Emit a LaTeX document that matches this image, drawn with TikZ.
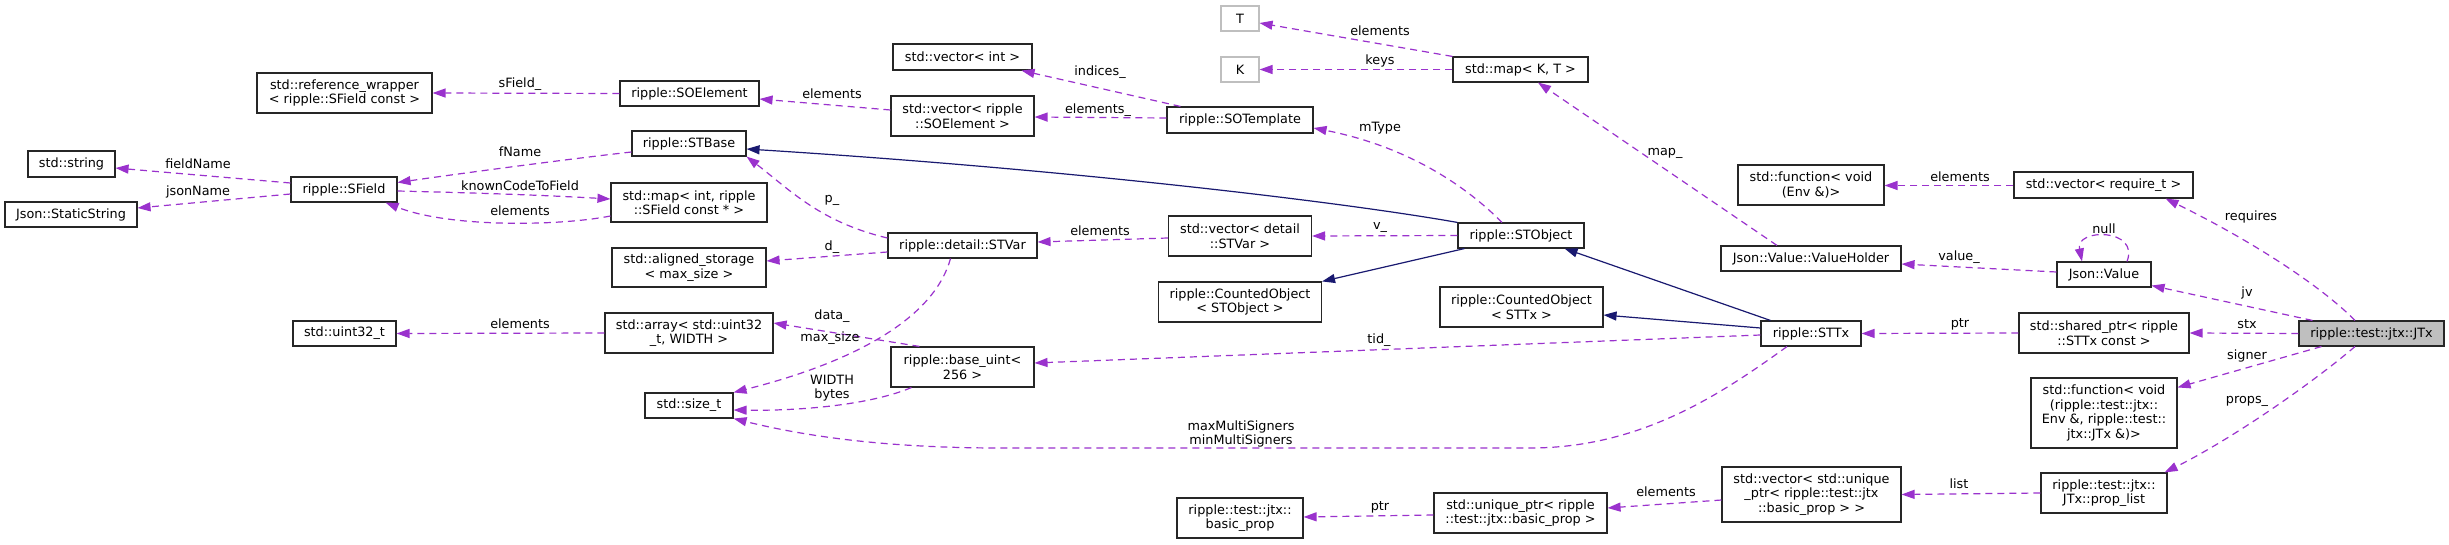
\documentclass[tikz,border=0pt]{standalone}
\usepackage{fontspec}
\setmainfont{DejaVu Sans}
\usetikzlibrary{arrows.meta,calc}
\definecolor{edgep}{HTML}{9A32CD}
\definecolor{inhc}{HTML}{191970}
\definecolor{gr75}{HTML}{BFBFBF}
\begin{document}
\begin{tikzpicture}[x=1pt,y=-1pt,
  font=\fontsize{12.8}{14.5}\selectfont,
  cls/.style={draw=black!85, line width=1.1pt, fill=white, inner sep=0pt, align=center, text=black},
  undoc/.style={cls, draw=gr75},
  sz/.style 2 args={minimum width=#1pt, minimum height=#2pt},
  lbl/.style={inner sep=0pt, align=center, text=black},
  usage/.style={draw=edgep, line width=1.2pt, dash pattern=on 7pt off 5pt, -{Triangle[length=13pt,width=9pt]}},
  inherit/.style={draw=inhc, line width=1.2pt, -{Triangle[length=13pt,width=9pt]}}
]
\useasboundingbox[fill=white] (0,0) rectangle (2449,545);

% nodes
\node[cls, sz={175}{40}] (refw) at (344.5,93) {std::reference\_wrapper\\< ripple::SField const >};
\node[cls, sz={87}{26}] (stdstring) at (71.5,164) {std::string};
\node[cls, sz={132}{25}] (staticstr) at (71,214.5) {Json::StaticString};
\node[cls, sz={106}{25}] (sfield) at (344,189.5) {ripple::SField};
\node[cls, sz={139}{25}] (soelement) at (689.5,93.5) {ripple::SOElement};
\node[cls, sz={114}{25}] (stbase) at (689,143.5) {ripple::STBase};
\node[cls, sz={156}{39}] (mapint) at (689,202.5) {std::map< int, ripple\\::SField const * >};
\node[cls, sz={154}{39}] (aligned) at (689,267.5) {std::aligned\_storage\\< max\_size >};
\node[cls, sz={103}{25}] (uint32) at (344.5,333.5) {std::uint32\_t};
\node[cls, sz={168}{40}] (array) at (689,333) {std::array< std::uint32\\\_t, WIDTH >};
\node[cls, sz={88}{25}] (sizet) at (689,405.5) {std::size\_t};
\node[cls, sz={139}{26}] (vecint) at (962.5,57) {std::vector< int >};
\node[cls, sz={143}{40}] (vecsoel) at (962.5,116) {std::vector< ripple\\::SOElement >};
\node[cls, sz={149}{25}] (stvar) at (962.5,245.5) {ripple::detail::STVar};
\node[cls, sz={143}{40}] (baseuint) at (962.5,367) {ripple::base\_uint<\\256 >};
\node[undoc, sz={38}{25}] (T) at (1240,18.5) {T};
\node[undoc, sz={38}{25}] (K) at (1240,69.5) {K};
\node[cls, sz={146}{26}] (sotemplate) at (1240,120) {ripple::SOTemplate};
\node[cls, sz={143}{40}] (vecstvar) at (1240,236) {std::vector< detail\\::STVar >};
\node[cls, sz={163}{40}] (coSTObject) at (1240,302) {ripple::CountedObject\\< STObject >};
\node[cls, sz={126}{40}] (basicprop) at (1240,518) {ripple::test::jtx::\\basic\_prop};
\node[cls, sz={135}{25}] (mapKT) at (1520.5,69.5) {std::map< K, T >};
\node[cls, sz={126}{25}] (stobject) at (1521,235.5) {ripple::STObject};
\node[cls, sz={163}{40}] (coSTTx) at (1521.5,307) {ripple::CountedObject\\< STTx >};
\node[cls, sz={173}{40}] (uniqueptr) at (1520.5,513) {std::unique\_ptr< ripple\\::test::jtx::basic\_prop >};
\node[cls, sz={146}{40}] (funcenv) at (1811,185) {std::function< void\\(Env \&)>};
\node[cls, sz={180}{25}] (valueholder) at (1811,258.5) {Json::Value::ValueHolder};
\node[cls, sz={100}{25}] (sttx) at (1811,333.5) {ripple::STTx};
\node[cls, sz={179}{55}] (vecuptr) at (1811.5,494.5) {std::vector< std::unique\\\_ptr< ripple::test::jtx\\::basic\_prop > >};
\node[cls, sz={179}{26}] (vecreq) at (2103.5,185) {std::vector< require\_t >};
\node[cls, sz={94}{25}] (jsonvalue) at (2104,274.5) {Json::Value};
\node[cls, sz={170}{40}] (sharedptr) at (2104,333) {std::shared\_ptr< ripple\\::STTx const >};
\node[cls, sz={146}{70}] (funcjtx) at (2104,413) {std::function< void\\(ripple::test::jtx::\\Env \&, ripple::test::\\jtx::JTx \&)>};
\node[cls, sz={126}{40}] (proplist) at (2104,493) {ripple::test::jtx::\\JTx::prop\_list};
\node[cls, fill=gr75, sz={145}{25}] (jtx) at (2371.5,333.5) {ripple::test::jtx::JTx};

% edges
\draw[usage] (soelement.west) -- (refw.east);
\draw[usage] ($(sfield.west)+(0,-6.5)$) -- ($(stdstring.east)+(0,4)$);
\draw[usage] ($(sfield.west)+(0,4.5)$) -- ($(staticstr.east)+(0,-6.5)$);
\draw[usage] ($(stbase.west)+(0,8.5)$) .. controls (560,160) and (450,175) .. ($(sfield.east)+(0,-7)$);
\draw[usage] ($(sfield.east)+(0,1.5)$) .. controls (480,193) and (540,195) .. ($(mapint.west)+(0,-3.5)$);
\draw[usage] ($(mapint.west)+(0,13.5)$) .. controls (560,226) and (450,228) .. ($(sfield.south east)+(-12,0)$);
\draw[usage] ($(vecsoel.west)+(0,-6)$) -- ($(soelement.east)+(0,5.5)$);
\draw[usage] ($(sotemplate.north west)+(14,0)$) -- ($(vecint.south east)+(-11,0)$);
\draw[usage] ($(sotemplate.west)+(0,-2)$) -- ($(vecsoel.east)+(0,1)$);
\draw[inherit] (stobject.north west) .. controls (1330,200) and (1050,168) .. ($(stbase.east)+(0,5.5)$);
\draw[usage] ($(stvar.west)+(0,-7.5)$) .. controls (820,222) and (790,190) .. (stbase.south east);
\draw[usage] ($(stvar.west)+(0,6.5)$) -- ($(aligned.east)+(0,-6.5)$);
\draw[usage] ($(vecstvar.west)+(0,2)$) -- ($(stvar.east)+(0,-3.5)$);
\draw[usage] ($(stvar.south)+(-12,0)$) .. controls (935,315) and (862,360) .. (sizet.north east);
\draw[usage] ($(baseuint.north west)+(29,0)$) -- ($(array.east)+(0,-10)$);
\draw[usage] ($(baseuint.south west)+(21,0)$) .. controls (870,405) and (800,411) .. ($(sizet.east)+(0,4.5)$);
\draw[usage] ($(sttx.south)+(-24,0)$) .. controls (1720,395) and (1640,448) .. (1530,448) -- (1000,448) .. controls (880,448) and (800,435) .. (sizet.south east);
\draw[usage] ($(sttx.west)+(0,1.5)$) -- ($(baseuint.east)+(0,-4)$);
\draw[inherit] ($(sttx.west)+(0,-5.5)$) -- ($(coSTTx.east)+(0,8)$);
\draw[inherit] ($(sttx.north west)+(10,0)$) -- ($(stobject.south east)+(-20,0)$);
\draw[inherit] ($(stobject.south west)+(7,0)$) -- (coSTObject.north east);
\draw[usage] (mapKT.north west) -- ($(T.east)+(0,4.5)$);
\draw[usage] (mapKT.west) -- (K.east);
\draw[usage] ($(stobject.north)+(-19,0)$) .. controls (1460,180) and (1400,145) .. ($(sotemplate.east)+(0,8)$);
\draw[usage] (stobject.west) -- (vecstvar.east);
\draw[usage] ($(valueholder.north)+(-34,0)$) -- ($(mapKT.south)+(17.5,0)$);
\draw[usage] ($(vecreq.west)+(0,0.5)$) -- ($(funcenv.east)+(0,0.5)$);
\draw[usage] ($(jsonvalue.west)+(0,-2.5)$) -- ($(valueholder.east)+(0,5.5)$);
\draw[usage] ($(jsonvalue.north)+(23,0)$) .. controls (2140,228) and (2075,228) .. ($(jsonvalue.north)+(-22,0)$);
\draw[usage] ($(jtx.north)+(-16.5,0)$) .. controls (2320,285) and (2250,240) .. ($(vecreq.south east)+(-28,0)$);
\draw[usage] ($(jtx.north west)+(14,0)$) -- ($(jsonvalue.south east)+(0,-2)$);
\draw[usage] (jtx.west) -- (sharedptr.east);
\draw[usage] (sharedptr.west) -- (sttx.east);
\draw[usage] ($(jtx.south west)+(23,0)$) -- ($(funcjtx.north east)+(0,10)$);
\draw[usage] ($(jtx.south)+(-16.5,0)$) .. controls (2310,385) and (2230,440) .. ($(proplist.north east)+(-3,0)$);
\draw[usage] (proplist.west) -- (vecuptr.east);
\draw[usage] ($(vecuptr.west)+(0,5.5)$) -- ($(uniqueptr.east)+(0,-5)$);
\draw[usage] ($(uniqueptr.west)+(0,2)$) -- ($(basicprop.east)+(0,-1)$);
\draw[usage] (array.west) -- (uint32.east);

% labels
\node[lbl] (l1) at (520,84) {sField\_};
\node[lbl] (l2) at (198,164) {fieldName};
\node[lbl] (l3) at (198,192) {jsonName};
\node[lbl] (l4) at (520,152) {fName};
\node[lbl] (l5) at (520,186) {knownCodeToField};
\node[lbl] (l6) at (520,211) {elements};
\node[lbl] (l7) at (832,94) {elements};
\node[lbl] (l8) at (1100,72) {indices\_};
\node[lbl] (l9) at (1098,110) {elements\_};
\node[lbl] (l10) at (832,200) {p\_};
\node[lbl] (l11) at (832,247) {d\_};
\node[lbl] (l12) at (1100,231) {elements};
\node[lbl] (l13) at (830,338) {max\_size};
\node[lbl] (l14) at (832,316) {data\_};
\node[lbl] (l15) at (832,388) {WIDTH\\bytes};
\node[lbl] (l16) at (1241,434) {maxMultiSigners\\minMultiSigners};
\node[lbl] (l17) at (1379,340) {tid\_};
\node[lbl] (l18) at (1380,31) {elements};
\node[lbl] (l19) at (1380,61) {keys};
\node[lbl] (l20) at (1380,128) {mType};
\node[lbl] (l21) at (1380,228) {v\_};
\node[lbl] (l22) at (1665,153) {map\_};
\node[lbl] (l23) at (1960,177) {elements};
\node[lbl] (l24) at (1959,257) {value\_};
\node[lbl] (l25) at (2104,229) {null};
\node[lbl] (l26) at (2251,217) {requires};
\node[lbl] (l27) at (2247,293) {jv};
\node[lbl] (l28) at (2247,324) {stx};
\node[lbl] (l29) at (1960,324) {ptr};
\node[lbl] (l30) at (2247,356) {signer};
\node[lbl] (l31) at (2247,401) {props\_};
\node[lbl] (l32) at (1959,484) {list};
\node[lbl] (l33) at (1666,492) {elements};
\node[lbl] (l34) at (1380,507) {ptr};
\node[lbl] (l35) at (520,324) {elements};
\end{tikzpicture}
\end{document}
